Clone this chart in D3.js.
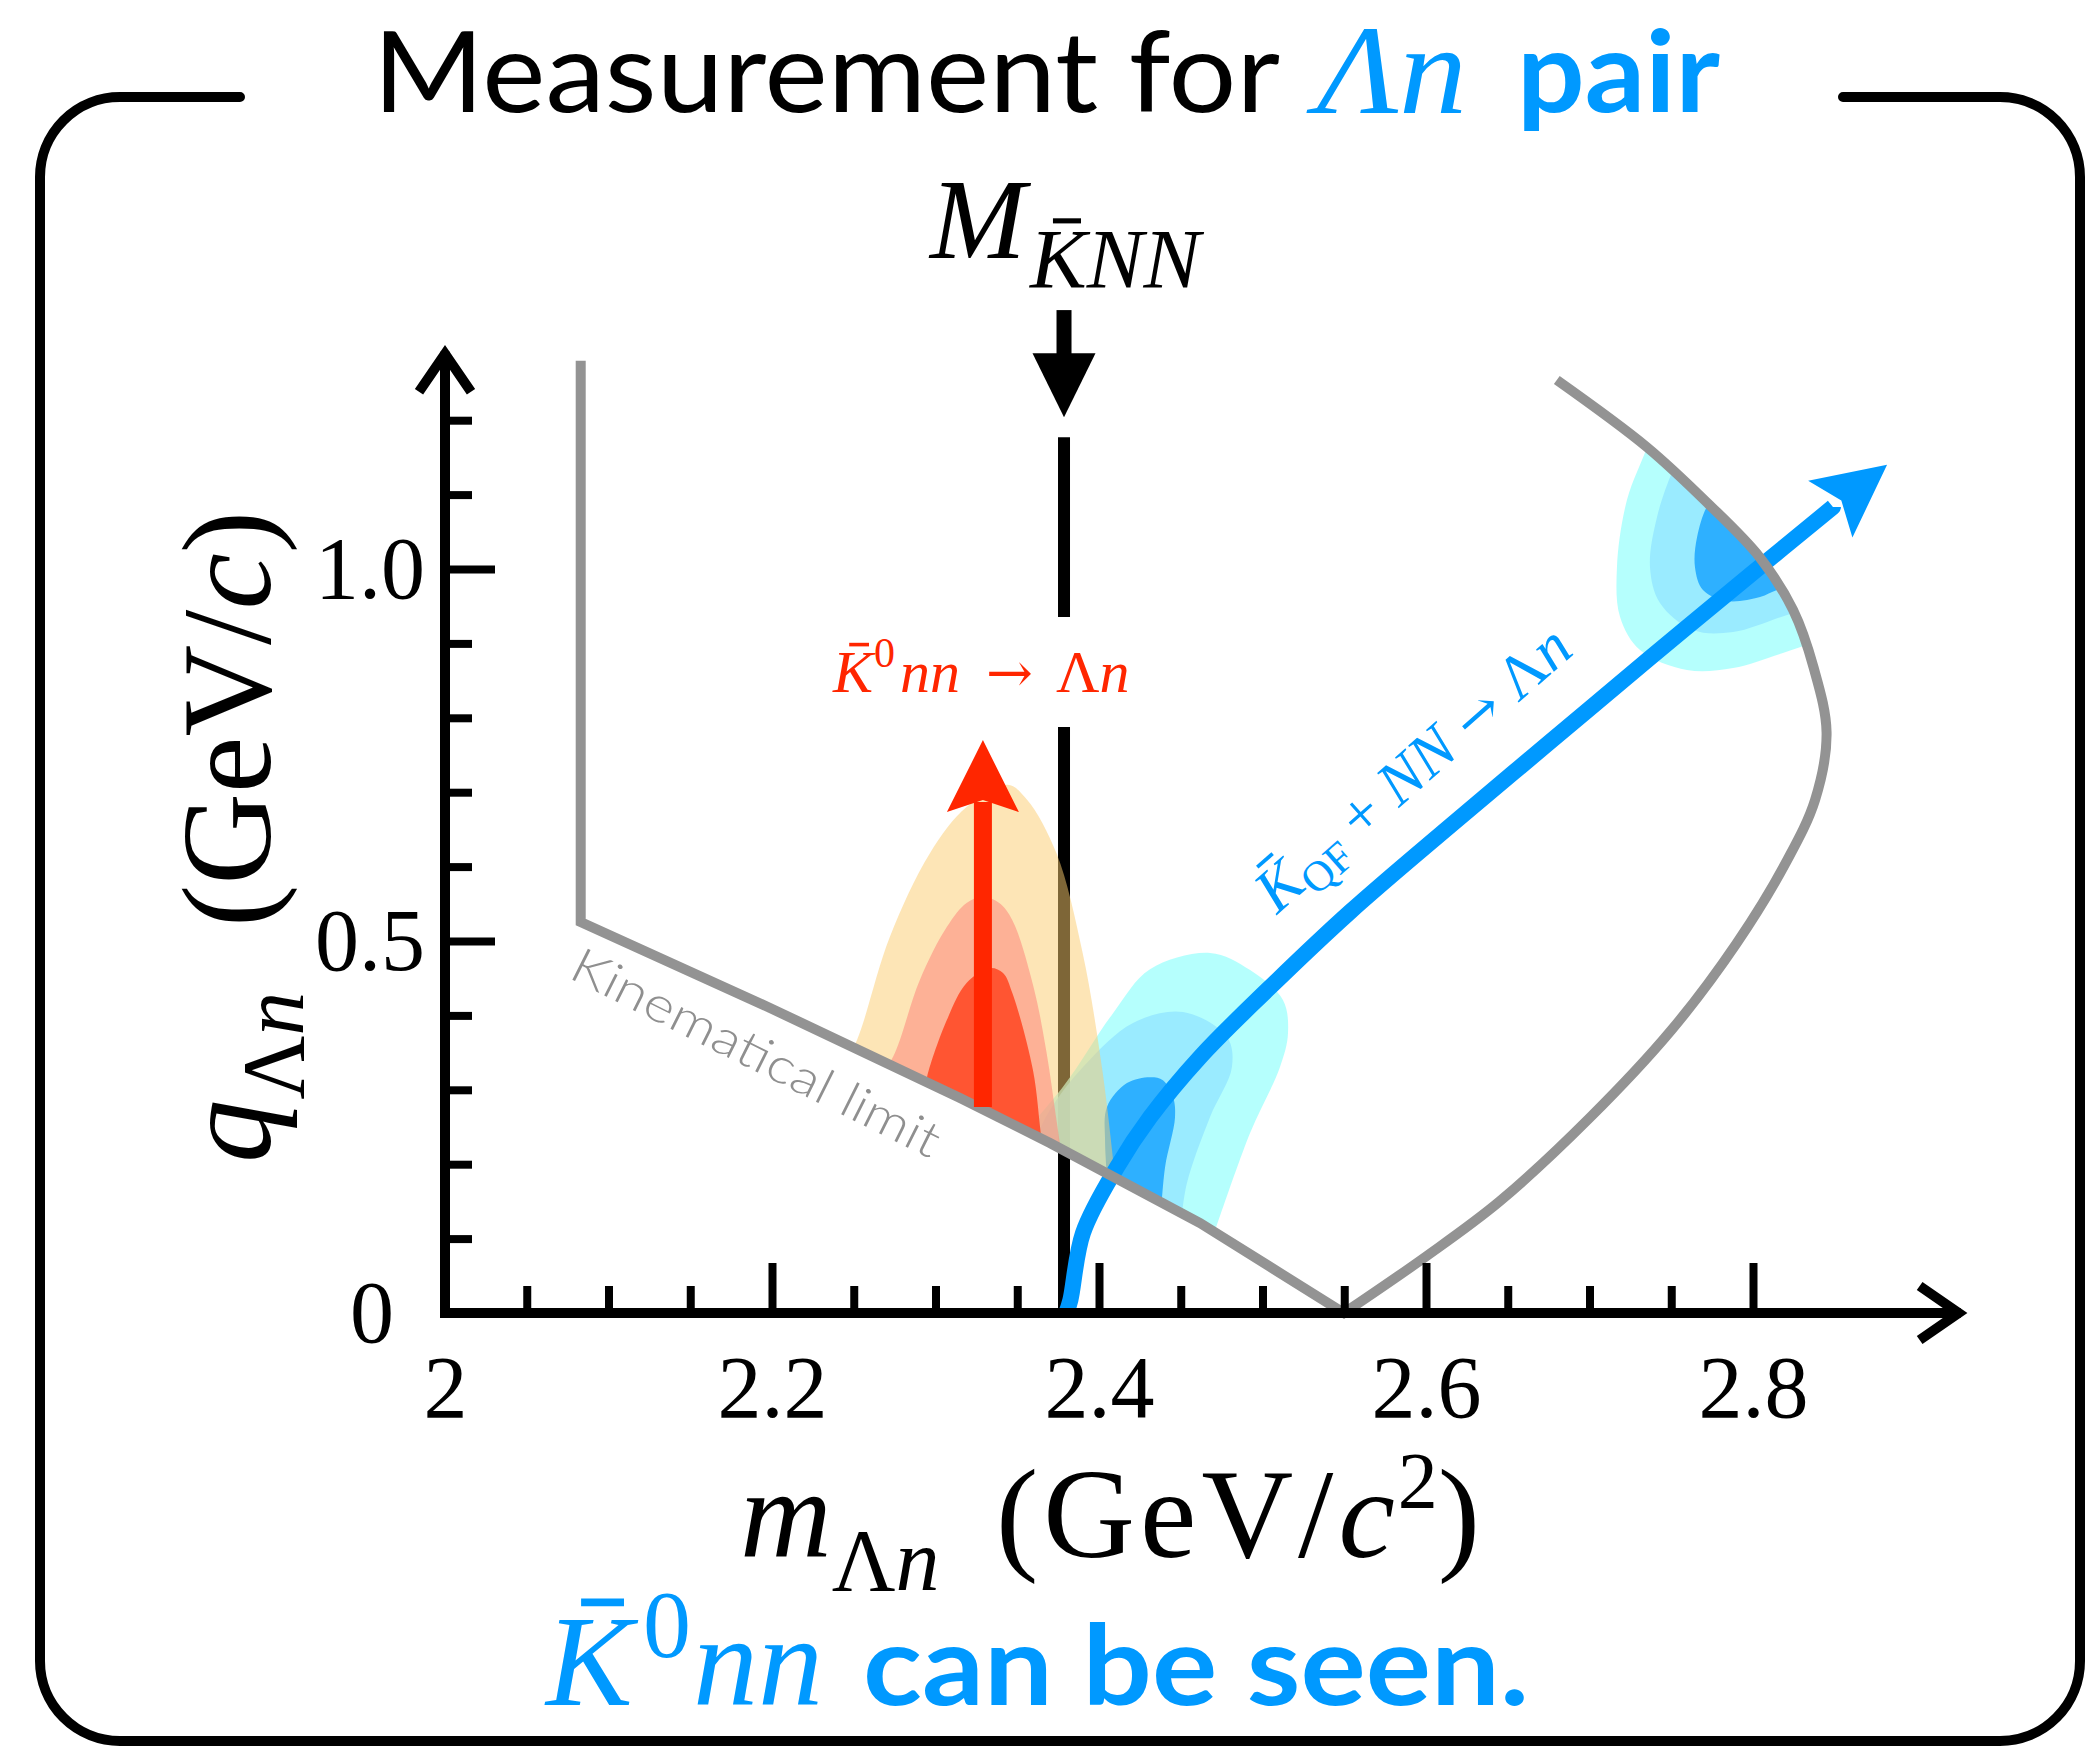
<!DOCTYPE html>
<html>
<head>
<meta charset="utf-8">
<script src="https://cdn.jsdelivr.net/npm/d3@7"></script>
<style>
  body { margin: 0; background: #fff; }
  svg { display: block; }
</style>
</head>
<body>
<div id="chart"></div>
<script>
var W = 2091, H = 1747;
var blue = "#0099ff", red = "#ff2600", gray = "#939393";
var serif = "'Liberation Serif','Times New Roman',serif";
var arrowFont = "'DejaVu Serif',serif";
var sans = "Lato,'Open Sans',sans-serif";

// axis ticks
var xLabelValues = [2, 2.2, 2.4, 2.6, 2.8];
var xTickLabels = ["2", "2.2", "2.4", "2.6", "2.8"];
var xTicksMajor = [2.2, 2.4, 2.6, 2.8];
var xTicksMinor = [2.05, 2.1, 2.15, 2.25, 2.3, 2.35, 2.45, 2.5, 2.55, 2.65, 2.7, 2.75];
var yLabelValues = [0.5, 1.0];
var yTickLabels = ["0.5", "1.0"];
var yTicksMajor = [0.5, 1.0];
var yTicksMinor = [0.1, 0.2, 0.3, 0.4, 0.6, 0.7, 0.8, 0.9, 1.1, 1.2];

// kinematical limit (m, q)
var limitLeft = [[2.083, 1.28], [2.083, 0.5255], [2.1988, 0.41], [2.315, 0.289], [2.370, 0.2285], [2.4618, 0.121], [2.5498, 0]];
var limitRight = [[2.5498, 0], [2.60, 0.076], [2.645, 0.15], [2.70, 0.262], [2.75, 0.38], [2.79, 0.497], [2.82, 0.605],
  [2.838, 0.69], [2.845, 0.78], [2.837, 0.868], [2.8245, 0.945], [2.804, 1.016], [2.772, 1.089], [2.735, 1.164], [2.68, 1.254]];

// M_KNN threshold line
var mKNN = 2.3786;
var mKNNdashes = [[0, 0.7876], [0.9355, 1.177]];
var mKNNarrow = [1.348, 1.29, 1.204]; // shaft top, head base, tip

// K_QF line
var kqfPath = [[2.380, 0], [2.3825, 0.0175], [2.3902, 0.1075], [2.411, 0.196], [2.4312, 0.263], [2.4618, 0.344],
  [2.5028, 0.434], [2.5535, 0.539], [2.6147, 0.6546], [2.6758, 0.7675], [2.737, 0.8804], [2.7982, 0.9919], [2.8489, 1.0833]];
var kqfTip = [2.882, 1.14];

// Kbar0 nn arrow
var redArrow = { m: 2.329, from: 0.277, to: 0.77 };

// contours: free edge + points closing under the limit (clipped away)
var redContours = [
  { fill: "rgb(251,204,110)", op: 0.5,
    free: [[2.243, 0.33], [2.252, 0.367], [2.272, 0.505], [2.2966, 0.618], [2.319, 0.680], [2.344, 0.710], [2.356, 0.690],
      [2.374, 0.618], [2.390, 0.484], [2.402, 0.327], [2.410, 0.18], [2.412, 0.14]],
    rest: [[2.35, 0.15], [2.26, 0.28]] },
  { fill: "rgb(253,142,129)", op: 0.6,
    free: [[2.266, 0.32], [2.274, 0.344], [2.2905, 0.448], [2.307, 0.519], [2.319, 0.551], [2.329, 0.559], [2.339, 0.551],
      [2.347, 0.528], [2.360, 0.438], [2.368, 0.349], [2.374, 0.259], [2.380, 0.17]],
    rest: [[2.33, 0.2], [2.28, 0.28]] },
  { fill: "rgb(255,69,33)", op: 0.85,
    free: [[2.293, 0.29], [2.2948, 0.317], [2.307, 0.394], [2.319, 0.4435], [2.3333, 0.4637], [2.3413, 0.457], [2.347, 0.430],
      [2.3596, 0.3266], [2.365, 0.2325], [2.370, 0.17]],
    rest: [[2.33, 0.22], [2.30, 0.27]] }
];
var blueContours = [
  { fill: "rgb(156,255,252)", op: 0.75,
    free: [[2.345, 0.22], [2.378, 0.304], [2.4086, 0.403], [2.4312, 0.462], [2.4679, 0.484], [2.4924, 0.461], [2.5125, 0.4207],
      [2.5156, 0.3763], [2.5107, 0.3306], [2.4924, 0.242], [2.469, 0.098]],
    rest: [[2.42, 0.1], [2.36, 0.18]] },
  { fill: "rgb(145,228,255)", op: 0.75,
    free: [[2.358, 0.219], [2.370, 0.273], [2.3902, 0.3306], [2.4208, 0.3898], [2.4514, 0.4046], [2.4783, 0.371], [2.4813, 0.3306],
      [2.4679, 0.2634], [2.4538, 0.1747], [2.4502, 0.122]],
    rest: [[2.42, 0.12], [2.37, 0.18]] },
  { fill: "rgb(10,156,255)", op: 0.75,
    free: [[2.4055, 0.165], [2.4037, 0.2325], [2.4049, 0.277], [2.4171, 0.309], [2.4312, 0.317], [2.4391, 0.313], [2.4453, 0.290],
      [2.4465, 0.263], [2.4404, 0.196], [2.438, 0.138]],
    rest: [[2.42, 0.15]] },
  { fill: "rgb(156,255,252)", op: 0.75,
    free: [[2.74, 1.2], [2.7352, 1.164], [2.7229, 1.0927], [2.7168, 1.0027], [2.7187, 0.9355], [2.7309, 0.8911], [2.7596, 0.8642],
      [2.7878, 0.8669], [2.8183, 0.8871], [2.8379, 0.9019], [2.85, 0.91]],
    rest: [[2.87, 1.0], [2.80, 1.2]] },
  { fill: "rgb(145,228,255)", op: 0.75,
    free: [[2.76, 1.17], [2.7511, 1.133], [2.7413, 1.0699], [2.737, 1.0027], [2.7431, 0.9543], [2.7633, 0.918], [2.7878, 0.9153],
      [2.8208, 0.9382], [2.84, 0.95]],
    rest: [[2.86, 1.02], [2.80, 1.15]] },
  { fill: "rgb(10,156,255)", op: 0.75,
    free: [[2.78, 1.1], [2.7725, 1.086], [2.7658, 1.043], [2.7645, 1.0027], [2.7694, 0.9718], [2.7841, 0.957], [2.8043, 0.9624],
      [2.8147, 0.9718], [2.83, 0.98]],
    rest: [[2.84, 1.03], [2.80, 1.1]] }
];

var x = d3.scaleLinear().domain([2, 2.8]).range([445, 1753]);
var y = d3.scaleLinear().domain([0, 1]).range([1313, 569]);
var xEnd = 2.927, yEnd = 1.292;

var svg = d3.select("#chart").append("svg").attr("width", W).attr("height", H);
var defs = svg.append("defs");

var lin = d3.line().x(function (d) { return x(d[0]); }).y(function (d) { return y(d[1]); });
var smooth = d3.line().x(function (d) { return x(d[0]); }).y(function (d) { return y(d[1]); })
  .curve(d3.curveCatmullRom.alpha(0.5));

var limitD = lin(limitLeft) + smooth(limitRight).replace(/^M/, "L");
defs.append("clipPath").attr("id", "allowed").append("path")
  .attr("d", limitD + "L" + x(2.68) + "," + y(1.5) + "L" + x(2.083) + "," + y(1.5) + "Z");

function blob(c) {
  return smooth(c.free) + c.rest.map(function (d) { return "L" + x(d[0]) + "," + y(d[1]); }).join("") + "Z";
}

function arrowHead(g, tip, dir, L, N, Wd, color) {
  var px = -dir[1], py = dir[0];
  var pts = [tip,
    [tip[0] - L * dir[0] + Wd * px, tip[1] - L * dir[1] + Wd * py],
    [tip[0] - N * dir[0], tip[1] - N * dir[1]],
    [tip[0] - L * dir[0] - Wd * px, tip[1] - L * dir[1] - Wd * py]];
  g.append("polygon").attr("points", pts.map(function (p) { return p.join(","); }).join(" ")).attr("fill", color);
}

function kbar(g, x0, base, fs, color) {
  g.append("line").attr("x1", x0 + 0.27 * fs).attr("x2", x0 + 0.6 * fs)
    .attr("y1", base - 0.79 * fs).attr("y2", base - 0.79 * fs)
    .attr("stroke", color).attr("stroke-width", 0.06 * fs);
}

// frame
var fr = { x0: 40, y0: 97, x1: 2080, y1: 1741, r: 80, gapL: 240, gapR: 1843 };
svg.append("path")
  .attr("d", "M" + fr.gapL + "," + fr.y0 + "H" + (fr.x0 + fr.r) +
    "A" + fr.r + "," + fr.r + " 0 0 0 " + fr.x0 + "," + (fr.y0 + fr.r) +
    "V" + (fr.y1 - fr.r) + "A" + fr.r + "," + fr.r + " 0 0 0 " + (fr.x0 + fr.r) + "," + fr.y1 +
    "H" + (fr.x1 - fr.r) + "A" + fr.r + "," + fr.r + " 0 0 0 " + fr.x1 + "," + (fr.y1 - fr.r) +
    "V" + (fr.y0 + fr.r) + "A" + fr.r + "," + fr.r + " 0 0 0 " + (fr.x1 - fr.r) + "," + fr.y0 + "H" + fr.gapR)
  .attr("fill", "none").attr("stroke", "#000").attr("stroke-width", 10).attr("stroke-linecap", "round");

// title
svg.append("text").attr("x", 373).attr("y", 112).attr("font-family", sans).attr("font-size", 113)
  .attr("textLength", 907).attr("lengthAdjust", "spacingAndGlyphs").text("Measurement for");
svg.append("text").attr("x", 1317).attr("y", 113).attr("font-family", serif).attr("font-size", 126)
  .attr("font-style", "italic").attr("fill", blue).attr("textLength", 150).attr("lengthAdjust", "spacingAndGlyphs").text("Λn");
svg.append("text").attr("x", 1517).attr("y", 112).attr("font-family", sans).attr("font-size", 113)
  .attr("font-weight", 700).attr("fill", blue).attr("textLength", 203).attr("lengthAdjust", "spacingAndGlyphs").text("pair");

// M_KNN threshold
var xm = x(mKNN);
mKNNdashes.forEach(function (s) {
  svg.append("line").attr("x1", xm).attr("x2", xm).attr("y1", y(s[0])).attr("y2", y(s[1]))
    .attr("stroke", "#000").attr("stroke-width", 12);
});
svg.append("line").attr("x1", xm).attr("x2", xm).attr("y1", y(mKNNarrow[0])).attr("y2", y(mKNNarrow[1]) + 2)
  .attr("stroke", "#000").attr("stroke-width", 15);
arrowHead(svg, [xm, y(mKNNarrow[2])], [0, 1], y(mKNNarrow[2]) - y(mKNNarrow[1]), y(mKNNarrow[2]) - y(mKNNarrow[1]), 31.5, "#000");
svg.append("text").attr("x", 930).attr("y", 258).attr("font-family", serif).attr("font-size", 115)
  .attr("font-style", "italic").text("M");
svg.append("text").attr("x", 1030).attr("y", 288).attr("font-family", serif).attr("font-size", 85)
  .attr("font-style", "italic").text("KNN");
kbar(svg, 1030, 288, 85, "#000");

// contours
var cg = svg.append("g").attr("clip-path", "url(#allowed)");
cg.selectAll("path.blue").data(blueContours).join("path").attr("class", "blue")
  .attr("d", blob).attr("fill", function (d) { return d.fill; }).attr("fill-opacity", function (d) { return d.op; });
cg.selectAll("path.red").data(redContours).join("path").attr("class", "red")
  .attr("d", blob).attr("fill", function (d) { return d.fill; }).attr("fill-opacity", function (d) { return d.op; });

// K_QF line + arrow
svg.append("path").attr("d", smooth(kqfPath)).attr("fill", "none").attr("stroke", blue).attr("stroke-width", 16);
var last = kqfPath[kqfPath.length - 1];
var tp = [x(kqfTip[0]), y(kqfTip[1])], lp = [x(last[0]), y(last[1])];
var dl = Math.hypot(tp[0] - lp[0], tp[1] - lp[1]);
arrowHead(svg, tp, [(tp[0] - lp[0]) / dl, (tp[1] - lp[1]) / dl], 72, 58, 36, blue);

// kinematical limit
svg.append("path").attr("d", limitD).attr("fill", "none").attr("stroke", gray).attr("stroke-width", 10)
  .attr("stroke-linejoin", "miter");

// red arrow
var rx = x(redArrow.m), rtip = y(redArrow.to);
svg.append("line").attr("x1", rx).attr("x2", rx).attr("y1", y(redArrow.from)).attr("y2", rtip + 62)
  .attr("stroke", red).attr("stroke-width", 18);
arrowHead(svg, [rx, rtip], [0, -1], 72, 60, 36, red);

// axes
function styleAxis(g, w) {
  g.select(".domain").remove();
  g.selectAll(".tick line").attr("stroke", "#000").attr("stroke-width", w);
}
var gx = svg.append("g").attr("transform", "translate(0," + y(0) + ")");
gx.append("g").call(d3.axisBottom(x).tickValues(xTicksMinor).tickSize(-27).tickFormat("")).call(styleAxis, 8);
gx.append("g").call(d3.axisBottom(x).tickValues(xTicksMajor).tickSize(-50).tickFormat("")).call(styleAxis, 8);
gx.append("g").call(d3.axisBottom(x).tickValues(xLabelValues).tickSize(0).tickPadding(42)
  .tickFormat(function (d, i) { return xTickLabels[i]; }))
  .call(styleAxis, 0).attr("font-size", 88).attr("font-family", serif);

var gy = svg.append("g").attr("transform", "translate(" + x(2) + ",0)");
gy.append("g").call(d3.axisLeft(y).tickValues(yTicksMinor).tickSize(-27).tickFormat("")).call(styleAxis, 8);
gy.append("g").call(d3.axisLeft(y).tickValues(yTicksMajor).tickSize(-50).tickFormat("")).call(styleAxis, 8);
gy.append("g").call(d3.axisLeft(y).tickValues(yLabelValues).tickSize(0).tickPadding(20)
  .tickFormat(function (d, i) { return yTickLabels[i]; }))
  .call(styleAxis, 0).attr("font-size", 88).attr("font-family", serif);
gy.append("g").call(d3.axisLeft(y).tickValues([0]).tickSize(0).tickPadding(51).tickFormat(function () { return "0"; }))
  .call(styleAxis, 0).attr("font-size", 88).attr("font-family", serif);

svg.append("path").attr("d", "M" + (x(2) - 5) + "," + y(0) + "H" + x(xEnd))
  .attr("stroke", "#000").attr("stroke-width", 10);
svg.append("path").attr("d", "M" + x(2) + "," + (y(0) + 5) + "V" + y(yEnd))
  .attr("stroke", "#000").attr("stroke-width", 10);
svg.append("path").attr("d", "M" + (x(xEnd) - 41) + "," + (y(0) - 27) + "L" + (x(xEnd) - 2) + "," + y(0) + "L" + (x(xEnd) - 41) + "," + (y(0) + 27))
  .attr("fill", "none").attr("stroke", "#000").attr("stroke-width", 10);
svg.append("path").attr("d", "M" + (x(2) - 26) + "," + (y(yEnd) + 40) + "L" + x(2) + "," + (y(yEnd) + 2) + "L" + (x(2) + 26) + "," + (y(yEnd) + 40))
  .attr("fill", "none").attr("stroke", "#000").attr("stroke-width", 10);

// axis titles
var xt = svg.append("text").attr("x", 740).attr("y", 1557).attr("font-family", serif).attr("font-size", 127);
xt.append("tspan").attr("font-style", "italic").text("m");
xt.append("tspan").attr("font-size", 88).attr("dy", 33).text("Λ");
xt.append("tspan").attr("font-size", 88).attr("font-style", "italic").text("n");
xt.append("tspan").attr("x", 996).attr("dy", -33).attr("letter-spacing", 5).text("(GeV/");
xt.append("tspan").attr("font-style", "italic").attr("letter-spacing", 3).text("c");
xt.append("tspan").attr("font-size", 80).attr("dy", -49).text("2");
xt.append("tspan").attr("dy", 49).text(")");

var yt = svg.append("text").attr("transform", "translate(270,1163) rotate(-90)")
  .attr("font-family", serif).attr("font-size", 127);
yt.append("tspan").attr("font-style", "italic").text("q");
yt.append("tspan").attr("font-size", 88).attr("dy", 33).text("Λ");
yt.append("tspan").attr("font-size", 88).attr("font-style", "italic").text("n");
yt.append("tspan").attr("x", 236).attr("dy", -33).text("(GeV/");
yt.append("tspan").attr("font-style", "italic").text("c");
yt.append("tspan").text(")");

// red label
var rl = svg.append("text").attr("x", 833).attr("y", 692).attr("font-family", serif).attr("font-size", 60).attr("fill", red);
rl.append("tspan").attr("font-style", "italic").text("K");
rl.append("tspan").attr("x", 874).attr("font-size", 42).attr("dy", -25).text("0");
rl.append("tspan").attr("x", 900).attr("font-style", "italic").attr("dy", 25).text("nn");
rl.append("tspan").attr("x", 986).attr("font-family", arrowFont).attr("font-size", 56).text("→");
rl.append("tspan").attr("x", 1056).text("Λ");
rl.append("tspan").attr("font-style", "italic").text("n");
kbar(svg, 833, 692, 60, red);

// blue label along the line
var bg = svg.append("g").attr("transform", "translate(1277,915) rotate(-41.3)");
var bl = bg.append("text").attr("font-family", serif).attr("font-size", 62).attr("fill", blue);
bl.append("tspan").attr("font-style", "italic").text("K");
bl.append("tspan").attr("font-size", 43).attr("dy", 12).text("QF");
bl.append("tspan").attr("dy", -12).text(" + ");
bl.append("tspan").attr("font-style", "italic").text("NN");
bl.append("tspan").text(" ");
bl.append("tspan").attr("font-family", arrowFont).attr("font-size", 54).text("→");
bl.append("tspan").text(" Λ");
bl.append("tspan").attr("font-style", "italic").text("n");
kbar(bg, 0, 0, 62, blue);

// kinematical limit label
svg.append("g").attr("transform", "translate(567,977) rotate(26.6)")
  .append("text").attr("font-family", sans).attr("font-weight", 300).attr("font-size", 49).attr("fill", "#8f8f8f")
  .attr("textLength", 406).attr("lengthAdjust", "spacingAndGlyphs").text("Kinematical limit");

// bottom note
var bt = svg.append("text").attr("x", 546).attr("y", 1705).attr("font-family", serif).attr("font-size", 130).attr("fill", blue);
bt.append("tspan").attr("font-style", "italic").text("K");
bt.append("tspan").attr("x", 643).attr("font-size", 96).attr("dy", -48).text("0");
bt.append("tspan").attr("x", 693).attr("font-style", "italic").attr("dy", 48).text("nn");
kbar(svg, 546, 1705, 130, blue);
svg.append("text").attr("x", 863).attr("y", 1705).attr("font-family", sans).attr("font-weight", 700).attr("font-size", 112)
  .attr("fill", blue).attr("textLength", 666).attr("lengthAdjust", "spacingAndGlyphs").text("can be seen.");
</script>
</body>
</html>
